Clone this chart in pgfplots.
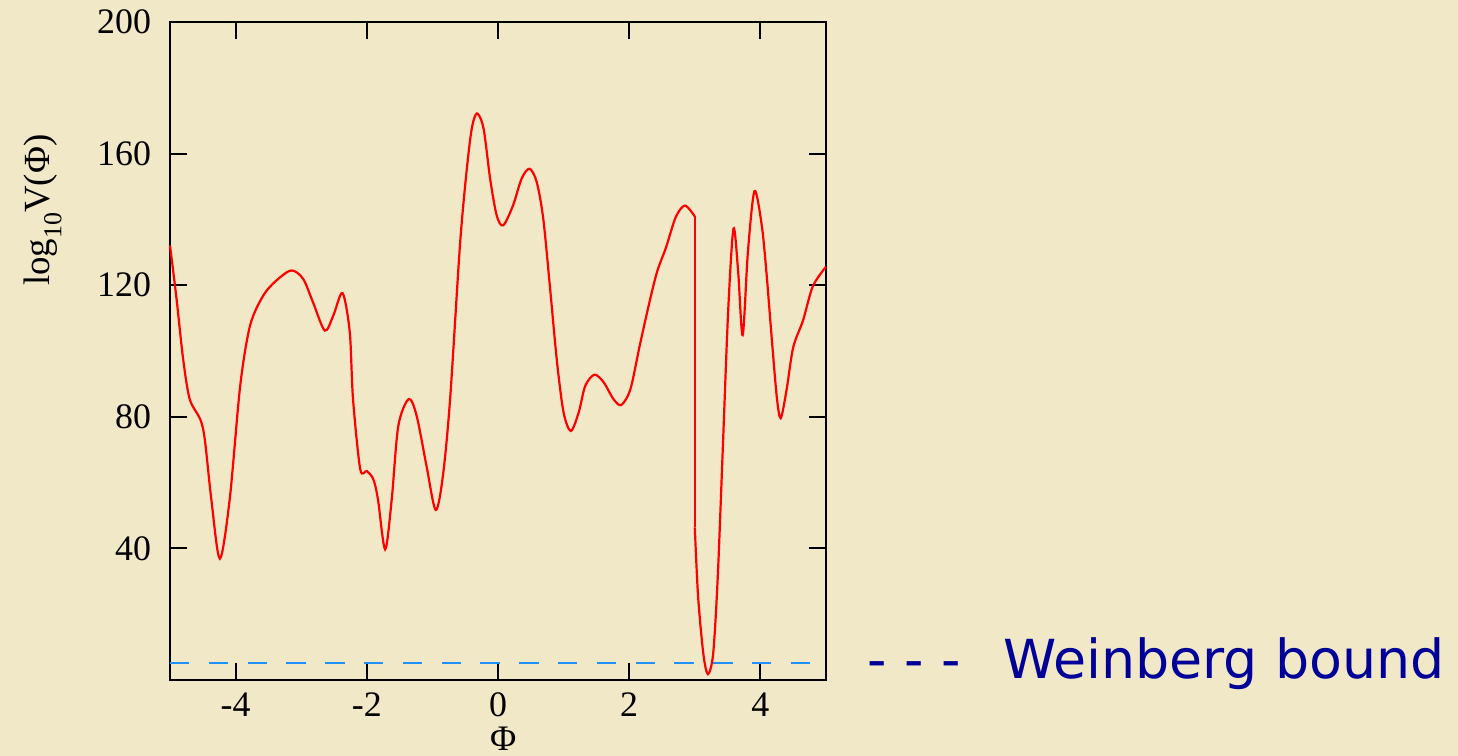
\documentclass[border=0pt]{standalone}
\usepackage{pgfplots}
\pgfplotsset{compat=1.18}
\usepackage{fontspec}
\setmainfont{Liberation Serif}
\newfontfamily\legfont{DejaVu Sans}
\definecolor{bg}{RGB}{241,232,200}
\definecolor{wblue}{RGB}{30,144,255}
\definecolor{legblue}{RGB}{0,0,153}
\begin{document}
\begin{tikzpicture}
\fill[bg] (0,0) rectangle (729bp,-378bp);
\useasboundingbox (0,0) rectangle (729bp,-378bp);
\begin{axis}[
  at={(85bp,-340bp)}, anchor=south west,
  width=328bp, height=329bp, scale only axis,
  xmin=-5, xmax=5, ymin=0, ymax=200,
  xtick={-4,-2,0,2,4}, xticklabels={-4,-2,0,2,4},
  ytick={40,80,120,160,200}, yticklabels={40,80,120,160,200},
  tick align=inside, major tick length=8.4bp,
  every tick/.style={black, line width=1bp},
  axis line style={line width=1bp},
  tick label style={font=\fontsize{18}{18}\selectfont},
  /pgf/number format/assume math mode=true,
  xticklabel style={yshift=-3bp},
  yticklabel style={xshift=-6bp},
  clip=false,
  axis background/.style={fill=bg},
  xlabel={Φ},
  xlabel style={font=\fontsize{18}{18}\selectfont, at={(rel axis cs:0.508,0)}, anchor=base, yshift=-35bp},
  ylabel={log{\fontsize{13}{13}\selectfont\raisebox{-6bp}{10}}V(Φ)},
  ylabel style={font=\fontsize{18.5}{18.5}\selectfont, at={(rel axis cs:-0.1646,0.714)}, anchor=south, inner sep=0pt},
]
\addplot[wblue, line width=1.1bp, dash pattern=on 9.7bp off 9.7bp] coordinates {(-5,5.2) (5,5.2)};
\addplot[red, line width=1.1bp, smooth, tension=0.5] coordinates {
(-5,132.1) (-4.90,115.8) (-4.80,97.6) (-4.70,85.4) (-4.54,79.3) (-4.47,73.2) (-4.37,54.9) (-4.24,36.9)
(-4.09,54.9) (-3.93,89.4) (-3.78,107.7) (-3.58,116.8) (-3.38,121.4) (-3.15,124.5) (-2.97,121.9)
(-2.82,114.8) (-2.64,106.2) (-2.51,110.8) (-2.37,117.6) (-2.26,105.8) (-2.21,85.4) (-2.10,64.1)
(-2.00,63.5) (-1.90,61.0) (-1.83,54.9) (-1.72,39.7) (-1.62,54.9) (-1.52,77.2) (-1.36,85.4)
(-1.24,80.3) (-1.09,65.1) (-0.95,51.7) (-0.84,62.0) (-0.73,85.4) (-0.58,132.1) (-0.48,154.4)
(-0.40,167.6) (-0.32,172.2) (-0.22,167.6) (-0.12,152.4) (-0.02,141.2) (0.08,138.2) (0.23,144.3)
(0.36,152.4) (0.48,155.4) (0.59,151.4) (0.69,140.2) (0.79,119.9) (0.90,96.6) (1.00,81.3)
(1.11,75.7) (1.23,81.3) (1.33,89.4) (1.47,92.8) (1.61,90.5) (1.76,85.4) (1.88,83.6) (2.02,88.5)
(2.16,101.6) (2.32,115.8) (2.43,124.4) (2.56,131.4) (2.71,140.7) (2.85,144.2) (3.00,140.9)};
\addplot[red, line width=1.1bp] coordinates {(3.00,140.9) (3.00,46.4)};
\addplot[red, line width=1.1bp, smooth, tension=0.5] coordinates {
(3.00,46.4) (3.05,25.5) (3.13,8.0) (3.20,1.8) (3.28,8.0) (3.35,31.3) (3.43,72.0) (3.51,112.7)
(3.59,137.2) (3.66,124.4) (3.73,104.8) (3.81,130.2) (3.91,148.6) (4.02,138.3) (4.09,124.4)
(4.17,104.6) (4.25,86.0) (4.31,79.6) (4.40,88.3) (4.50,101.1) (4.65,109.3) (4.80,119.7) (5.00,125.6)};
\node[anchor=base west, inner sep=0pt, text=legblue, font=\legfont\fontsize{27}{27}\selectfont]
  at (rel axis cs:1.0625,0.003) {-\hspace{8.75bp}-\hspace{8.75bp}-};
\node[anchor=base east, inner sep=0pt, text=legblue, font=\legfont\fontsize{27}{27}\selectfont]
  at (rel axis cs:1.9436,0.003) {Weinberg bound};
\end{axis}
\end{tikzpicture}
\end{document}
